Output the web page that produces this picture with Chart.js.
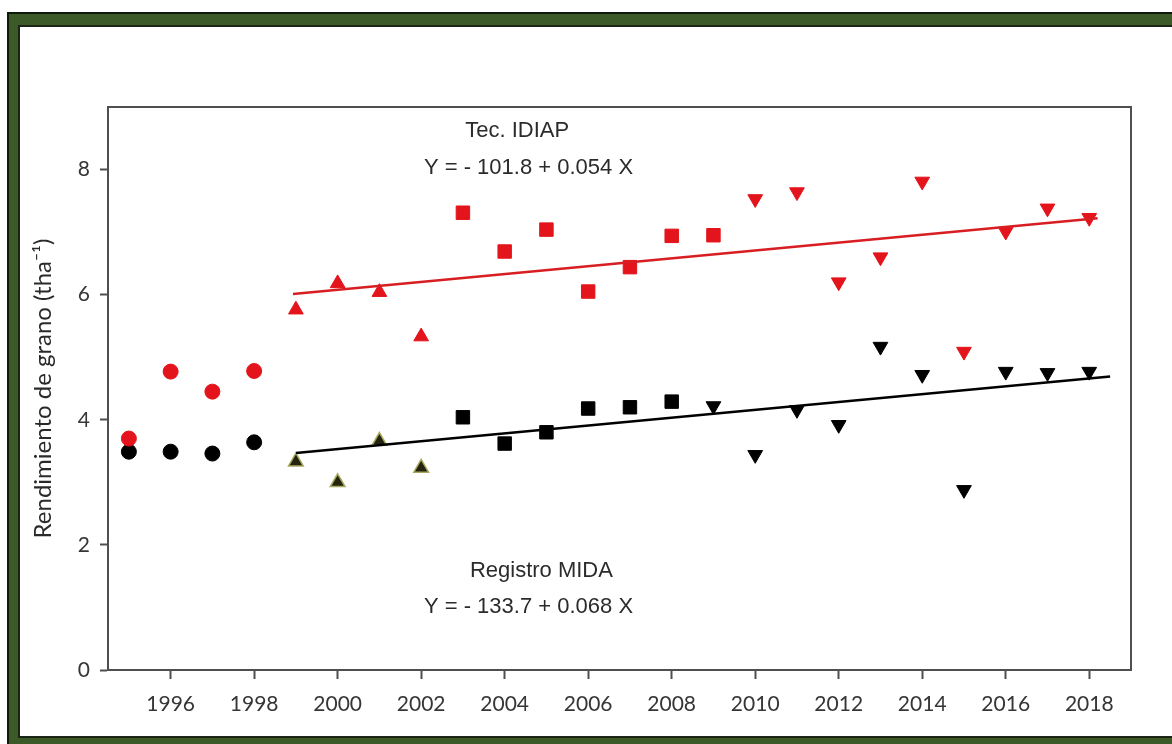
<!DOCTYPE html>
<html>
<head>
<meta charset="utf-8">
<title>Rendimiento de grano</title>
<script src="https://cdn.jsdelivr.net/npm/chart.js@4.4.1/dist/chart.umd.min.js"></script>
<style>
  html, body { margin: 0; padding: 0; background: #fff; }
  body { width: 1172px; height: 744px; position: relative; overflow: hidden; }
  #frame {
    position: absolute; left: 7px; top: 12px; width: 1165px; height: 732px;
    background: #3b5a27; border-left: 2px solid #0f1a0a; border-top: 2px solid #0f1a0a;
    box-sizing: border-box;
  }
  #panel {
    position: absolute; left: 18px; top: 25px; width: 1154px; height: 713px;
    background: #fff; border-left: 2px solid #1c2416; border-top: 2px solid #1c2416;
    border-bottom: 2px solid #1c2416; box-sizing: border-box;
  }
  #wrap { position: absolute; left: 0; top: 0; width: 1172px; height: 744px; }
</style>
</head>
<body>
<div id="frame"></div>
<div id="panel"></div>
<div id="wrap"><canvas id="chart" width="1172" height="744"></canvas></div>
<script>
// Years and yields (t/ha) per period and source
const circleYears = [1995, 1996, 1997, 1998];
const idiapCircle = [3.70, 4.77, 4.45, 4.78];
const midaCircle  = [3.49, 3.49, 3.46, 3.64];

const triUpYears  = [1999, 2000, 2001, 2002];
const idiapTriUp  = [5.76, 6.18, 6.04, 5.33];
const midaTriUp   = [3.33, 3.00, 3.66, 3.23];

const idiapSquareYears = [2003, 2004, 2005, 2006, 2007, 2008, 2009];
const idiapSquare      = [7.31, 6.69, 7.04, 6.05, 6.44, 6.94, 6.95];
const midaSquareYears  = [2003, 2004, 2005, 2006, 2007, 2008];
const midaSquare       = [4.04, 3.62, 3.80, 4.18, 4.20, 4.29];

const idiapTriDownYears = [2010, 2011, 2012, 2013, 2014, 2015, 2016, 2017, 2018];
const idiapTriDown      = [7.53, 7.64, 6.20, 6.60, 7.81, 5.09, 7.01, 7.38, 7.23];
const midaTriDownYears  = [2009, 2010, 2011, 2012, 2013, 2014, 2015, 2016, 2017, 2018];
const midaTriDown       = [4.22, 3.44, 4.16, 3.92, 5.17, 4.72, 2.88, 4.77, 4.75, 4.77];

// Fitted trend lines (end points)
const idiapTrendX = [1998.93, 2018.2];
const idiapTrendY = [6.01, 7.22];
const midaTrendX  = [1999.0, 2018.5];
const midaTrendY  = [3.47, 4.69];

// Axis ticks
const xTicks = [1996, 1998, 2000, 2002, 2004, 2006, 2008, 2010, 2012, 2014, 2016, 2018];
const yTicks = [0, 2, 4, 6, 8];

// Text labels inside the plot
const labelTexts = ['Tec. IDIAP', 'Y = - 101.8 + 0.054 X', 'Registro MIDA', 'Y = - 133.7 + 0.068 X'];
const labelX = [2004.30, 2004.57, 2004.88, 2004.57];
const labelY = [8.62, 8.03, 1.58, 1.01];

const RED = '#e3141b';
const BLACK = '#000000';

const pts = (xs, ys) => xs.map((x, i) => ({ x: x, y: ys[i] }));

function markers(data, color, style, radius, rotation, border) {
  return {
    type: 'scatter', data: data, showLine: false,
    pointStyle: style, pointRadius: radius, pointHoverRadius: radius,
    pointRotation: rotation || 0,
    backgroundColor: color, borderColor: border || color,
    pointBorderWidth: border ? 1.5 : 1, order: 2
  };
}
function trend(data, color) {
  return {
    type: 'line', data: data, borderColor: color, borderWidth: 2.5,
    pointRadius: 0, fill: false, tension: 0, order: 1
  };
}

const plotFrame = {
  id: 'plotFrame',
  afterDraw(chart) {
    const { ctx, chartArea: a } = chart;
    ctx.save();
    ctx.strokeStyle = '#4f4f4f';
    ctx.lineWidth = 2;
    ctx.strokeRect(a.left, a.top, a.right - a.left, a.bottom - a.top);
    ctx.restore();
  }
};

const plotLabels = {
  id: 'plotLabels',
  afterDatasetsDraw(chart) {
    const { ctx, scales } = chart;
    ctx.save();
    ctx.font = '22px "Liberation Sans", Arial, sans-serif';
    ctx.fillStyle = '#2b2b2b';
    ctx.textAlign = 'center';
    ctx.textBaseline = 'middle';
    labelTexts.forEach((t, i) => {
      ctx.fillText(t, scales.x.getPixelForValue(labelX[i]), scales.y.getPixelForValue(labelY[i]));
    });
    ctx.restore();
  }
};

new Chart(document.getElementById('chart'), {
  data: {
    datasets: [
      trend(pts(idiapTrendX, idiapTrendY), '#d81e22'),
      trend(pts(midaTrendX, midaTrendY), BLACK),
      markers(pts(circleYears, idiapCircle), RED, 'circle', 7.5),
      markers(pts(circleYears, midaCircle), BLACK, 'circle', 7.5),
      markers(pts(triUpYears, idiapTriUp), RED, 'triangle', 8.5),
      markers(pts(triUpYears, midaTriUp), '#23230e', 'triangle', 8.5, 0, '#a9a860'),
      markers(pts(idiapSquareYears, idiapSquare), RED, 'rect', 9.5),
      markers(pts(midaSquareYears, midaSquare), BLACK, 'rect', 9.5),
      markers(pts(idiapTriDownYears, idiapTriDown), RED, 'triangle', 8.5, 180),
      markers(pts(midaTriDownYears, midaTriDown), BLACK, 'triangle', 8.5, 180)
    ]
  },
  options: {
    responsive: false,
    animation: false,
    events: [],
    layout: { padding: { left: 20, top: 107, right: 41, bottom: 14 } },
    plugins: { legend: { display: false }, tooltip: { enabled: false } },
    scales: {
      x: {
        type: 'linear', min: 1994.5, max: 2019,
        afterBuildTicks: s => { s.ticks = xTicks.map(v => ({ value: v })); },
        afterFit: s => { s.height = 60; },
        grid: { drawOnChartArea: false, drawTicks: true, tickLength: 9, tickWidth: 2, tickColor: '#4f4f4f' },
        border: { display: true, color: '#4f4f4f', width: 2 },
        ticks: { autoSkip: false, maxRotation: 0, padding: 13, color: '#363636',
                 font: { family: 'Lato, "Open Sans", sans-serif', size: 21 },
                 callback: v => String(v) }
      },
      y: {
        type: 'linear', min: 0, max: 9,
        afterBuildTicks: s => { s.ticks = yTicks.map(v => ({ value: v })); },
        afterFit: s => { s.width = 88; },
        grid: { drawOnChartArea: false, drawTicks: true, tickLength: 8, tickWidth: 2, tickColor: '#4f4f4f' },
        border: { display: true, color: '#4f4f4f', width: 2 },
        ticks: { padding: 10, color: '#363636',
                 font: { family: 'Lato, "Open Sans", sans-serif', size: 21 } },
        title: {
          display: true, text: 'Rendimiento de grano (tha\u207B\u00B9)', color: '#2a2a2a',
          font: { family: 'Lato, "Noto Sans", sans-serif', size: 24 },
          padding: { top: 9, bottom: 0 }
        }
      }
    }
  },
  plugins: [plotFrame, plotLabels]
});
</script>
</body>
</html>
